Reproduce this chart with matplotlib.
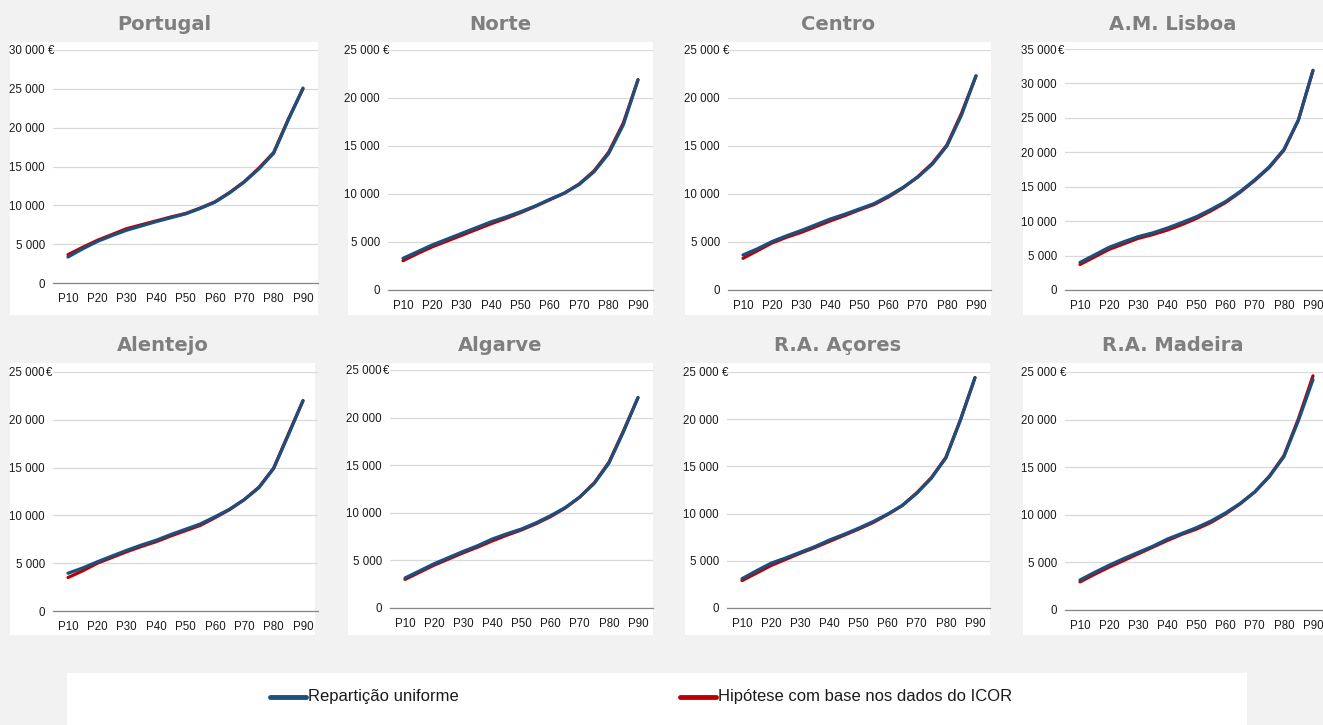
import matplotlib
matplotlib.use("Agg")
import matplotlib.pyplot as plt
import numpy as np
from matplotlib.patches import Rectangle
from matplotlib.lines import Line2D

# ------------------------------------------------------
# Données (milliers d'euros), percentis P10..P90 de 5 em 5
# ------------------------------------------------------
percentis = [10, 15, 20, 25, 30, 35, 40, 45, 50, 55, 60, 65, 70, 75, 80, 85, 90]
tick_labels = ["P10", "P20", "P30", "P40", "P50", "P60", "P70", "P80", "P90"]
regioes = ["Portugal", "Norte", "Centro", "A.M. Lisboa",
           "Alentejo", "Algarve", "R.A. Açores", "R.A. Madeira"]
y_max = [30000, 25000, 25000, 35000, 25000, 25000, 25000, 25000]
euro_espaco = [True, True, True, False, False, False, True, True]
y_step = 5000
legenda = ["Repartição uniforme", "Hipótese com base nos dados do ICOR"]

uniforme = {
    "Portugal":     [3.35, 4.4, 5.35, 6.1, 6.8, 7.35, 7.9, 8.4, 8.9, 9.6, 10.4, 11.6, 13.0, 14.7, 16.7, 21.0, 25.1],
    "Norte":        [3.3, 4.0, 4.7, 5.3, 5.9, 6.5, 7.1, 7.6, 8.15, 8.75, 9.45, 10.1, 11.0, 12.3, 14.2, 17.2, 21.9],
    "Centro":       [3.65, 4.3, 5.05, 5.65, 6.2, 6.8, 7.4, 7.9, 8.45, 9.0, 9.8, 10.7, 11.75, 13.1, 15.0, 18.2, 22.3],
    "A.M. Lisboa":  [4.0, 5.1, 6.2, 7.0, 7.75, 8.3, 9.0, 9.8, 10.65, 11.7, 12.85, 14.3, 16.0, 17.9, 20.4, 24.7, 31.9],
    "Alentejo":     [3.95, 4.5, 5.15, 5.75, 6.35, 6.9, 7.4, 8.0, 8.55, 9.1, 9.85, 10.65, 11.65, 12.9, 14.9, 18.4, 22.0],
    "Algarve":      [3.15, 3.9, 4.65, 5.3, 5.95, 6.55, 7.25, 7.8, 8.3, 8.95, 9.7, 10.55, 11.65, 13.1, 15.2, 18.5, 22.1],
    "R.A. Açores":  [3.1, 3.95, 4.75, 5.3, 5.9, 6.5, 7.2, 7.8, 8.45, 9.15, 9.95, 10.85, 12.15, 13.75, 15.9, 19.9, 24.4],
    "R.A. Madeira": [3.15, 3.95, 4.7, 5.4, 6.05, 6.7, 7.45, 8.05, 8.65, 9.35, 10.2, 11.2, 12.4, 14.0, 16.1, 19.9, 24.2],
}
icor = {
    "Portugal":     [3.65, 4.6, 5.5, 6.25, 7.0, 7.5, 8.0, 8.5, 8.95, 9.65, 10.45, 11.65, 13.05, 14.8, 16.8, 21.1, 25.0],
    "Norte":        [3.05, 3.8, 4.5, 5.1, 5.7, 6.3, 6.9, 7.45, 8.05, 8.7, 9.4, 10.1, 11.05, 12.4, 14.35, 17.4, 21.9],
    "Centro":       [3.3, 4.1, 4.9, 5.5, 6.0, 6.6, 7.2, 7.75, 8.35, 8.9, 9.7, 10.65, 11.8, 13.2, 15.1, 18.4, 22.3],
    "A.M. Lisboa":  [3.7, 4.8, 5.9, 6.7, 7.5, 8.05, 8.7, 9.5, 10.4, 11.5, 12.7, 14.2, 15.9, 17.8, 20.3, 24.7, 31.9],
    "Alentejo":     [3.5, 4.2, 5.0, 5.6, 6.2, 6.75, 7.25, 7.85, 8.4, 8.95, 9.75, 10.6, 11.65, 12.95, 14.95, 18.5, 22.0],
    "Algarve":      [3.0, 3.75, 4.5, 5.15, 5.8, 6.4, 7.05, 7.65, 8.2, 8.85, 9.6, 10.5, 11.65, 13.15, 15.3, 18.6, 22.1],
    "R.A. Açores":  [2.9, 3.7, 4.5, 5.15, 5.8, 6.4, 7.05, 7.7, 8.35, 9.05, 9.9, 10.85, 12.2, 13.8, 15.95, 19.95, 24.4],
    "R.A. Madeira": [2.95, 3.75, 4.5, 5.2, 5.9, 6.6, 7.3, 7.95, 8.5, 9.2, 10.1, 11.15, 12.4, 14.05, 16.2, 20.1, 24.6],
}

AZUL = "#1B4F7D"
VERMELHO = "#C00000"
CINZA_FUNDO = "#F2F2F2"
TEXTO = "#1A1A1A"

W, H = 1323, 725
fig = plt.figure(figsize=(W / 100, H / 100), dpi=100, facecolor=CINZA_FUNDO)

def rect_px(x0, y0, x1, y1):
    # pixels (origine en haut) -> coordonnées figure
    return [x0 / W, 1 - y1 / H, (x1 - x0) / W, (y1 - y0) / H]

# positions des panneaux : (P10 px, P90 px, y zéro px, y max px, boîte blanche)
panneaux = [
    (68, 303, 283, 50, (10, 42, 318, 315)),
    (403, 638, 290, 50, (348, 42, 653, 315)),
    (743, 976, 290, 50, (685, 42, 991, 315)),
    (1080, 1313, 290, 49, (1023, 42, 1323, 315)),
    (68, 303, 611, 372, (10, 363, 315, 635)),
    (405, 638, 608, 370, (348, 363, 653, 635)),
    (742, 975, 608, 372, (685, 363, 990, 635)),
    (1080, 1313, 610, 372, (1023, 363, 1323, 635)),
]

x = (np.array(percentis) - 10) / 10.0
pad_y = 6.0   # pt

for i, reg in enumerate(regioes):
    p10, p90, y0, y1, box = panneaux[i]
    esp = (p90 - p10) / 8
    fig.patches.append(Rectangle((box[0] / W, 1 - box[3] / H), (box[2] - box[0]) / W,
                                 (box[3] - box[1]) / H, transform=fig.transFigure,
                                 facecolor="white", edgecolor="none", zorder=-5))
    ax = fig.add_axes(rect_px(p10 - esp / 2, y1, p90 + esp / 2, y0))
    ax.set_zorder(2)
    ax.set_facecolor("none")
    ax.plot(x, np.array(icor[reg]) * 1000, color=VERMELHO, lw=2.3, solid_capstyle="round", zorder=3)
    ax.plot(x, np.array(uniforme[reg]) * 1000, color=AZUL, lw=2.3, solid_capstyle="round", zorder=4)
    ax.set_xlim(-0.5, 8.5)
    ax.set_ylim(0, y_max[i])
    yt = np.arange(0, y_max[i] + 1, y_step)
    labs = ["{:,}".format(int(v)).replace(",", " ") for v in yt]
    ax.set_yticks(yt)
    ax.set_yticklabels(labs)
    ax.set_xticks(range(9))
    ax.set_xticklabels(tick_labels)
    ax.tick_params(length=0, labelsize=8.3, colors=TEXTO)
    ax.tick_params(axis="x", pad=7)
    ax.tick_params(axis="y", pad=pad_y)
    for lab in ax.get_xticklabels() + ax.get_yticklabels():
        lab.set_family("Liberation Sans")
    # symbole € après la dernière étiquette
    ax.annotate("€", xy=(0, y_max[i]), xycoords=ax.get_yaxis_transform(),
                xytext=(-pad_y + (2.2 if euro_espaco[i] else 0.6), 0),
                textcoords="offset points", ha="left", va="center_baseline",
                fontsize=8.3, color=TEXTO, family="Liberation Sans",
                annotation_clip=False)
    ax.grid(axis="y", color="#D9D9D9", lw=0.9)
    ax.set_axisbelow(True)
    for s in ["top", "right", "left"]:
        ax.spines[s].set_visible(False)
    ax.spines["bottom"].set_color("#868686")
    ax.spines["bottom"].set_linewidth(0.9)
    cx = (box[0] + box[2]) / 2
    fig.text(cx / W, 1 - (box[1] - 18) / H, reg, ha="center", va="center",
             fontsize=14, fontweight="bold", color="#7F7F7F", family="DejaVu Sans")

# ------------------------------------------------------
# Légende en bas
# ------------------------------------------------------
fig.patches.append(Rectangle((67 / W, 0), (1247 - 67) / W, (H - 673) / H,
                             transform=fig.transFigure, facecolor="white",
                             edgecolor="none", zorder=-5))
for (x0, col, txt) in [(270, AZUL, legenda[0]), (680, VERMELHO, legenda[1])]:
    fig.lines.append(Line2D([x0 / W, (x0 + 36) / W], [1 - 697 / H, 1 - 697 / H],
                            transform=fig.transFigure, color=col, lw=3.5,
                            solid_capstyle="round"))
    fig.text((x0 + 38) / W, 1 - 697 / H, txt, ha="left", va="center", fontsize=12,
             color=TEXTO, family=["Liberation Sans Narrow", "Liberation Sans"])

fig.savefig("out.png", dpi=100, facecolor=CINZA_FUNDO)
